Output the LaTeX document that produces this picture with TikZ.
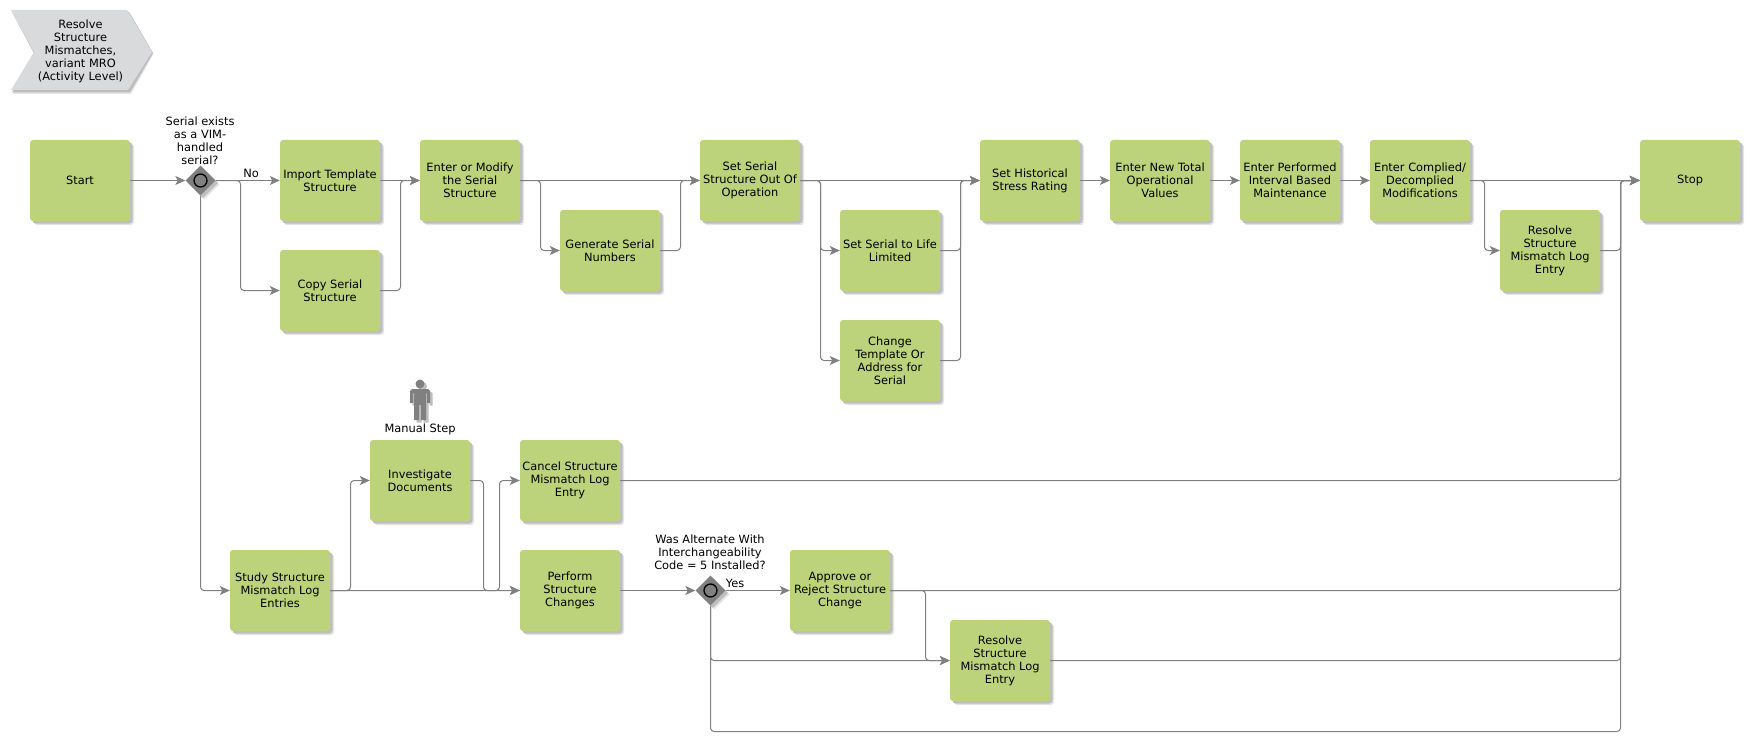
\documentclass[tikz,border=0pt]{standalone}
\usepackage{fontspec}
\setmainfont{DejaVu Sans}
\usetikzlibrary{arrows.meta,shapes.geometric,shadows}
\definecolor{stepgreen}{RGB}{188,211,124}
\definecolor{linegray}{RGB}{128,128,128}
\definecolor{shadowgray}{RGB}{190,190,190}
\definecolor{shadowpale}{RGB}{228,228,228}
\definecolor{headgray}{RGB}{217,218,220}
\tikzset{
  softshadow/.style={
    drop shadow={shadow xshift=4pt,shadow yshift=-4pt,fill=shadowpale,opacity=1},
    drop shadow={shadow xshift=2.5pt,shadow yshift=-2.5pt,fill=shadowgray,opacity=1}},
  stepbox/.style={rectangle,rounded corners=3pt,fill=stepgreen,minimum width=100pt,minimum height=81pt,inner sep=0pt,align=center,softshadow},
  gate/.style={diamond,fill=linegray,minimum width=30pt,minimum height=30pt,inner sep=0pt,softshadow},
  gatering/.style={circle,draw=black,line width=1.3pt,fill=linegray,minimum size=13pt,inner sep=0pt},
  flow/.style={draw=linegray,line width=1pt,rounded corners=3.5pt},
  arrowflow/.style={flow,-{Stealth[length=10pt,width=9pt,inset=2.5pt]}},
  note/.style={align=center,inner sep=0pt},
  every node/.append style={font=\fontsize{11.4}{13}\selectfont},
}
\begin{document}
\begin{tikzpicture}[x=1pt,y=-1pt]
  \useasboundingbox (0,0) rectangle (1750,741);

  \fill[shadowpale] (13,13) -- (130,13) -- (153.5,54) -- (131,94) -- (13,94) -- (34,54) -- cycle;
  \fill[shadowgray] (12,12) -- (129,12) -- (153,53) -- (130,92.5) -- (12,92.5) -- (34,53) -- cycle;
  \fill[headgray] (11,10) -- (127,10) -- (152,52) -- (128,90) -- (11,90) -- (34,52) -- cycle;
  \node[note] (title) at (80.5,51) {Resolve\\Structure\\Mismatches,\\variant MRO\\(Activity Level)};

  \node[stepbox] (start) at (80,180.5) {Start};
  \node[gate] (gateA) at (200.5,180.5) {};
  \node[gatering] (ringA) at (gateA) {};
  \node[stepbox] (import) at (330,180.5) {Import Template\\Structure};
  \node[stepbox] (copy) at (330,290.5) {Copy Serial\\Structure};
  \node[stepbox] (modify) at (470,180.5) {Enter or Modify\\the Serial\\Structure};
  \node[stepbox] (generate) at (610,250.5) {Generate Serial\\Numbers};
  \node[stepbox] (outop) at (750,180.5) {Set Serial\\Structure Out Of\\Operation};
  \node[stepbox] (life) at (890,250.5) {Set Serial to Life\\Limited};
  \node[stepbox] (change) at (890,360.5) {Change\\Template Or\\Address for\\Serial};
  \node[stepbox] (stress) at (1030,180.5) {Set Historical\\Stress Rating};
  \node[stepbox] (total) at (1160,180.5) {Enter New Total\\Operational\\Values};
  \node[stepbox] (interval) at (1290,180.5) {Enter Performed\\Interval Based\\Maintenance};
  \node[stepbox] (complied) at (1420,180.5) {Enter Complied/\\Decomplied\\Modifications};
  \node[stepbox] (logA) at (1550,250.5) {Resolve\\Structure\\Mismatch Log\\Entry};
  \node[stepbox] (stop) at (1690,180.5) {Stop};
  \node[stepbox] (study) at (280,590.5) {Study Structure\\Mismatch Log\\Entries};
  \node[stepbox] (docs) at (420,480.5) {Investigate\\Documents};
  \node[stepbox] (cancel) at (570,480.5) {Cancel Structure\\Mismatch Log\\Entry};
  \node[stepbox] (perform) at (570,590.5) {Perform\\Structure\\Changes};
  \node[gate] (gateB) at (710.5,590.5) {};
  \node[gatering] (ringB) at (gateB) {};
  \node[stepbox] (approve) at (840,590.5) {Approve or\\Reject Structure\\Change};
  \node[stepbox] (logB) at (1000,660.5) {Resolve\\Structure\\Mismatch Log\\Entry};

  \node[note] (gateAtext) at (200,140.5) {Serial exists\\as a VIM-\\handled\\serial?};
  \node[note] (notext) at (251,173.5) {No};
  \node[note] (gateBtext) at (710,552.5) {Was Alternate With\\Interchangeability\\Code = 5 Installed?};
  \node[note] (yestext) at (735,583.5) {Yes};
  \node[note] (manualtext) at (420,429.5) {Manual Step};

  \fill[shadowgray,xshift=2.5pt,yshift=-2.5pt] (420,384) circle (4.5)
    (412,389) -- (428,389) -- (430,391) -- (430,403) -- (427,403) -- (427,393) -- (426,393) -- (426,420) -- (421,420) -- (421,405) -- (419,405) -- (419,420) -- (414,420) -- (414,393) -- (413,393) -- (413,403) -- (410,403) -- (410,391) -- cycle;
  \fill[linegray] (420,384) circle (4.5)
    (412,389) -- (428,389) -- (430,391) -- (430,403) -- (427,403) -- (427,393) -- (426,393) -- (426,420) -- (421,420) -- (421,405) -- (419,405) -- (419,420) -- (414,420) -- (414,393) -- (413,393) -- (413,403) -- (410,403) -- (410,391) -- cycle;

  \coordinate (busA) at (240.5,0);
  \coordinate (busB) at (400.5,0);
  \coordinate (busC) at (540.5,0);
  \coordinate (busD) at (680.5,0);
  \coordinate (busE) at (820.5,0);
  \coordinate (busF) at (960.5,0);
  \coordinate (busG) at (1484.5,0);
  \coordinate (busH) at (1620.5,0);
  \coordinate (busI) at (350.5,0);
  \coordinate (busJ) at (483.5,0);
  \coordinate (busK) at (499.5,0);
  \coordinate (busL) at (925.5,0);
  \coordinate (busM) at (710.5,731.5);

  \draw[arrowflow] (start.east |- gateA) -- (gateA);
  \draw[arrowflow] (gateA.east) -- (import.west |- gateA);
  \draw[arrowflow] (gateA.east) -- (busA |- gateA) -- (busA |- copy) -- (copy.west);
  \draw[arrowflow] (gateA.south) -- (gateA.south |- study) -- (study.west);
  \draw[arrowflow] (import.east) -- (modify.west);
  \draw[arrowflow] (copy.east) -- (busB |- copy) -- (busB |- modify) -- (modify.west);
  \draw[arrowflow] (modify.east) -- (outop.west);
  \draw[arrowflow] (modify.east) -- (busC |- modify) -- (busC |- generate) -- (generate.west);
  \draw[arrowflow] (generate.east) -- (busD |- generate) -- (busD |- outop) -- (outop.west);
  \draw[arrowflow] (outop.east) -- (stress.west);
  \draw[arrowflow] (outop.east) -- (busE |- outop) -- (busE |- life) -- (life.west);
  \draw[arrowflow] (outop.east) -- (busE |- outop) -- (busE |- change) -- (change.west);
  \draw[arrowflow] (life.east) -- (busF |- life) -- (busF |- stress) -- (stress.west);
  \draw[arrowflow] (change.east) -- (busF |- change) -- (busF |- stress) -- (stress.west);
  \draw[arrowflow] (stress.east) -- (total.west);
  \draw[arrowflow] (total.east) -- (interval.west);
  \draw[arrowflow] (interval.east) -- (complied.west);
  \draw[arrowflow] (complied.east) -- (stop.west);
  \draw[arrowflow] (complied.east) -- (busG |- complied) -- (busG |- logA) -- (logA.west);
  \draw[arrowflow] (logA.east) -- (busH |- logA) -- (busH |- stop) -- (stop.west);
  \draw[arrowflow] (study.east) -- (perform.west);
  \draw[arrowflow] (study.east) -- (busI |- study) -- (busI |- docs) -- (docs.west);
  \draw[arrowflow] (study.east) -- (busK |- study) -- (busK |- cancel) -- (cancel.west);
  \draw[arrowflow] (docs.east) -- (busJ |- docs) -- (busJ |- perform) -- (perform.west);
  \draw[arrowflow] (cancel.east) -- (busH |- cancel) -- (busH |- stop) -- (stop.west);
  \draw[arrowflow] (perform.east) -- (gateB.west |- perform);
  \draw[arrowflow] (gateB.east |- approve) -- (approve.west);
  \draw[arrowflow] (gateB.south) -- (gateB.south |- logB) -- (logB.west);
  \draw[arrowflow] (approve.east) -- (busL |- approve) -- (busL |- logB) -- (logB.west);
  \draw[arrowflow] (approve.east) -- (busH |- approve) -- (busH |- stop) -- (stop.west);
  \draw[arrowflow] (logB.east) -- (busH |- logB) -- (busH |- stop) -- (stop.west);
  \draw[arrowflow] (gateB.south) -- (busM) -- (busH |- busM) -- (busH |- stop) -- (stop.west);
\end{tikzpicture}
\end{document}
